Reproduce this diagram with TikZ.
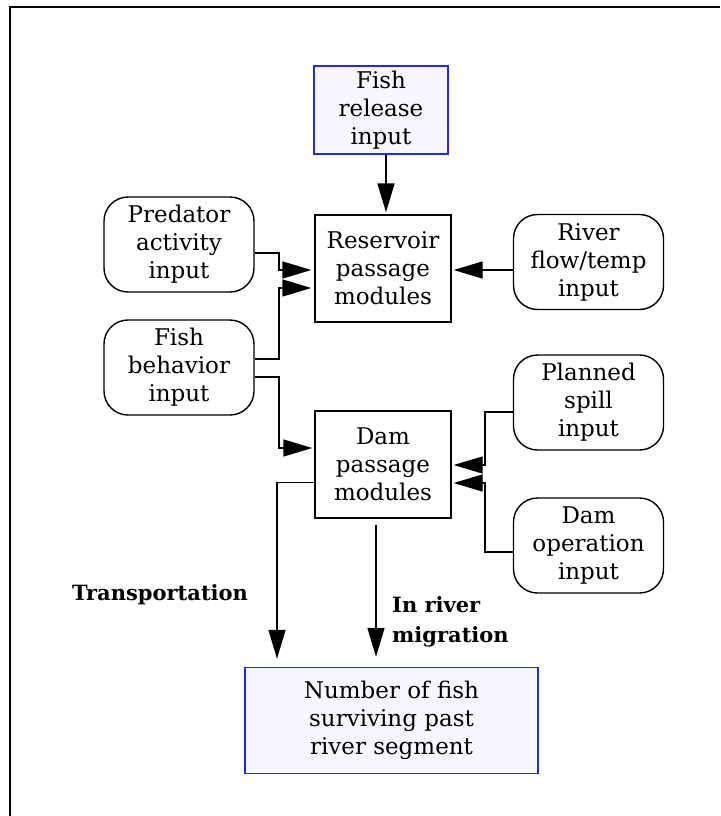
\documentclass[tikz,border=0pt]{standalone}
\usepackage{fontspec}
\setmainfont{DejaVu Serif}
\usetikzlibrary{arrows.meta}
\definecolor{boxfill}{HTML}{F6F6FF}
\definecolor{boxblue}{HTML}{2424FF}
\begin{document}
\begin{tikzpicture}[x=1pt,y=-1pt,
  font=\fontsize{23}{28}\selectfont,
  sqbox/.style={draw, line width=1.4pt, minimum width=136pt, minimum height=107pt, align=center, inner sep=0pt},
  bluebox/.style={draw=boxblue, fill=boxfill, line width=1.4pt, align=center, inner sep=0pt},
  rbox/.style={draw, line width=1.4pt, rounded corners=24pt, minimum width=150pt, minimum height=95pt, align=center, inner sep=0pt},
  arr/.style={line width=1.4pt, -{Triangle[length=29pt,width=17pt]}},
  lbl/.style={font=\fontsize{21}{30}\selectfont\bfseries, align=left, inner sep=0pt}]
\useasboundingbox (0,0) rectangle (720,816);
\draw[line width=2pt] (9.5,816) -- (9.5,7.5) -- (720,7.5);

\node[bluebox, minimum width=134pt, minimum height=88pt] (release) at (381,110) {\fontsize{23}{25}\selectfont Fish\\release\\input};
\node[sqbox] (reservoir) at (383,268.5) {Reservoir\\passage\\modules};
\node[sqbox] (dam) at (383,464.5) {Dam\\passage\\modules};
\node[rbox] (predator) at (179,244.5) {Predator\\activity\\input};
\node[rbox] (behavior) at (179,367.5) {Fish\\behavior\\input};
\node[rbox] (river) at (588.5,262) {River\\flow/temp\\input};
\node[rbox] (spill) at (588.5,402.5) {Planned\\spill\\input};
\node[rbox] (damop) at (588.5,545.5) {Dam\\operation\\input};
\node[bluebox, minimum width=293pt, minimum height=106pt] (result) at (391.5,720.5) {Number of fish\\surviving past\\river segment};

\draw[arr] ([xshift=5pt]release.south) -- ([xshift=3pt,yshift=2pt]reservoir.north);
\draw[arr] ([yshift=-8.5pt]predator.east) -| (279,270) -- ([xshift=-3pt,yshift=-1.5pt]reservoir.west);
\draw[arr] ([yshift=8.5pt]behavior.east) -| (279,288) -- ([xshift=-3pt,yshift=-19.5pt]reservoir.west);
\draw[arr] ([yshift=-9.5pt]behavior.east) -| (279,448) -- ([xshift=-2pt,yshift=16.5pt]dam.west);
\draw[arr] ([yshift=-8pt]river.west) -- ([xshift=2pt,yshift=-1.5pt]reservoir.east);
\draw[arr] ([yshift=-9.5pt]spill.west) -| (485,465) -- ([xshift=2pt,yshift=-0.5pt]dam.east);
\draw[arr] ([yshift=-6.5pt]damop.west) -| (485,483) -- ([xshift=2pt,yshift=-18.5pt]dam.east);
\draw[arr] ([yshift=-18pt]dam.west) -| ([xshift=-114.5pt,yshift=8pt]result.north);
\draw[arr] ([xshift=-7pt,yshift=-6pt]dam.south) -- ([xshift=-15.5pt,yshift=10pt]result.north);

\node[lbl] (transp) at (160,595) {Transportation};
\node[lbl, anchor=west] (inriver) at (392,622) {In river\\migration};
\end{tikzpicture}
\end{document}
